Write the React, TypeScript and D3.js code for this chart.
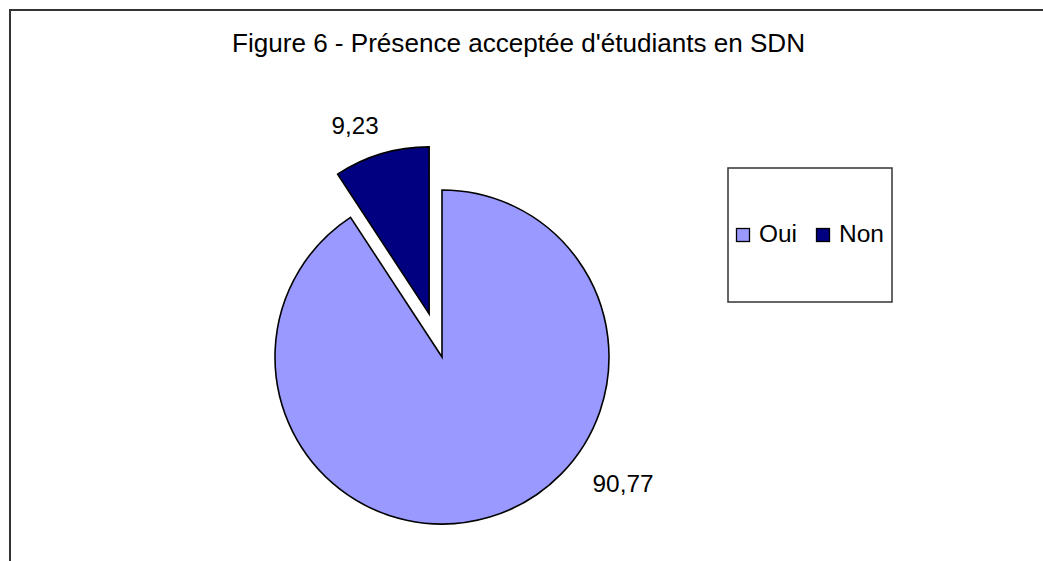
import React from 'react';
import * as d3 from 'd3';

const categories = ['Oui', 'Non'];
const values = [90.77, 9.23];
const valueLabels = ['90,77', '9,23'];
const colors = ['#9999FF', '#000080'];
const exploded = [false, true];
const title = "Figure 6 - Présence acceptée d'étudiants en SDN";

const width = 1043;
const height = 561;
const cx = 442;
const cy = 357;
const radius = 167;
const explodeDist = 45;
const font = "'Liberation Sans', Arial, sans-serif";

// label anchor: [angle (deg clockwise from top, relative to slice centre), distance]
const labelPlacement: [number, number][] = [[125, 221], [-21.5, 202]];
const labelWidths = [61, 47];

type Slice = { name: string; value: number };

const App = () => {
	const data: Slice[] = categories.map((name, i) => ({ name, value: values[i] }));
	const pie = d3.pie<Slice>().sort(null).value(d => d.value);
	const arcs = pie(data);
	const arc = d3.arc<d3.PieArcDatum<Slice>>().innerRadius(0).outerRadius(radius);

	return (
		<svg width={width} height={height} style={{ position: 'absolute', left: 0, top: 0, background: '#fff' }}>
			<rect x={10} y={10} width={1060} height={600} fill="#fff" stroke="#333" strokeWidth={2} />
			<text x={232} y={52} fontFamily={font} fontSize={25} textLength={573} lengthAdjust="spacingAndGlyphs" fill="#000">
				{title}
			</text>

			<g transform={`translate(${cx}, ${cy})`}>
				{arcs.map((a, i) => {
					const mid = (a.startAngle + a.endAngle) / 2;
					const off = exploded[i] ? explodeDist : 0;
					const ox = Math.sin(mid) * off;
					const oy = -Math.cos(mid) * off;
					const [deg, dist] = labelPlacement[i];
					const ang = (deg * Math.PI) / 180;
					const lx = ox + Math.sin(ang) * dist;
					const ly = oy - Math.cos(ang) * dist;
					return (
						<g key={categories[i]}>
							<path
								d={arc(a) ?? ''}
								transform={`translate(${ox}, ${oy})`}
								fill={colors[i]}
								stroke="#000"
								strokeWidth={1.6}
								strokeLinejoin="miter"
							/>
							<text
								x={lx}
								y={ly + 8}
								textAnchor="middle"
								fontFamily={font}
								fontSize={23}
								textLength={labelWidths[i]}
								lengthAdjust="spacingAndGlyphs"
								fill="#000"
							>
								{valueLabels[i]}
							</text>
						</g>
					);
				})}
			</g>

			<g>
				<rect x={728} y={168} width={164} height={134} fill="#fff" stroke="#333" strokeWidth={1.5} />
				{categories.map((c, i) => {
					const x0 = i === 0 ? 736 : 816;
					return (
						<g key={c}>
							<rect x={x0 + 0.5} y={228.5} width={13} height={13} fill={colors[i]} stroke="#000" strokeWidth={1.3} />
							<text
								x={x0 + 23}
								y={242}
								fontFamily={font}
								fontSize={23}
								textLength={i === 0 ? 38 : 45}
								lengthAdjust="spacingAndGlyphs"
								fill="#000"
							>
								{c}
							</text>
						</g>
					);
				})}
			</g>
		</svg>
	);
};

export default App;
